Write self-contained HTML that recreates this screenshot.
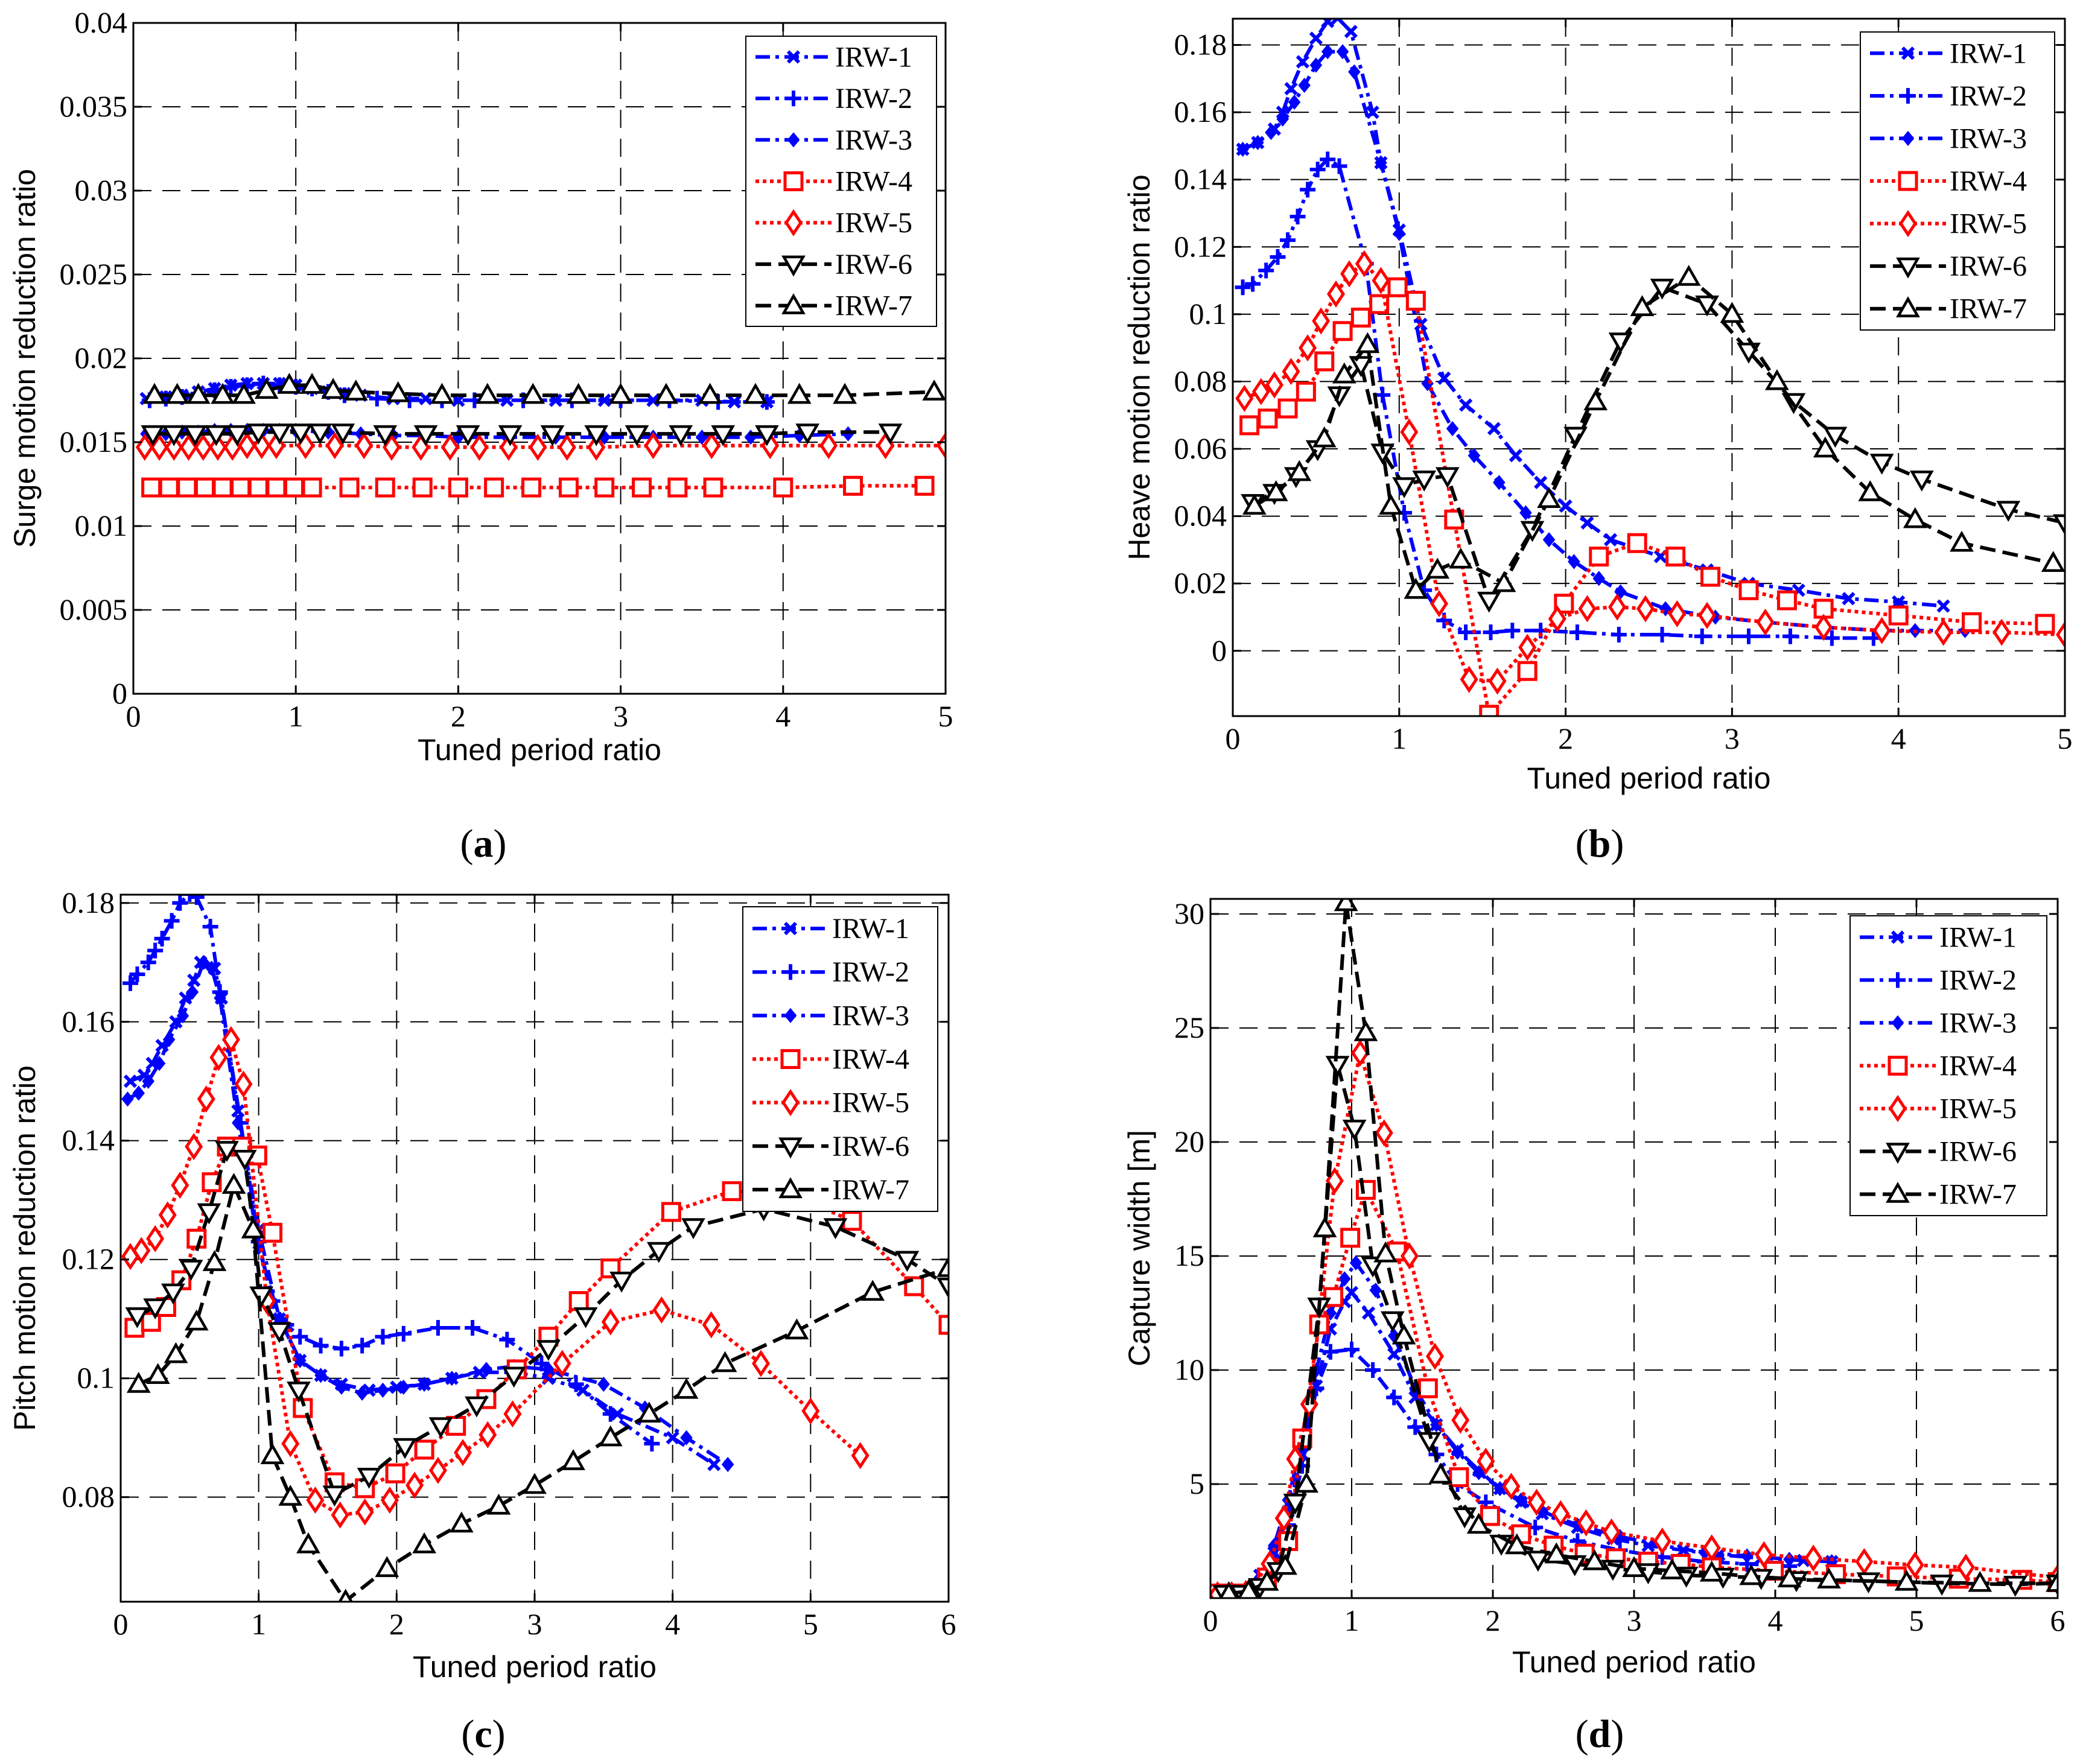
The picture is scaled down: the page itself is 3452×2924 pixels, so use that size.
<!DOCTYPE html>
<html><head><meta charset="utf-8"><style>
html,body{margin:0;padding:0;background:#fff;}
svg{display:block;}
</style></head><body>
<svg id="fig" width="3452" height="2924" viewBox="0 0 3452 2924" xmlns="http://www.w3.org/2000/svg"></svg>
<script>
// ---------------- Panel (a) surge ----------------
const a1X=[0.08,0.2,0.3,0.4,0.5,0.6,0.7,0.8,0.9,1.0,1.1,1.2,1.3,1.4,1.6,1.8,2.0,2.3,2.6,2.9,3.2,3.5,3.7,3.9];
const a1Y=[0.0176,0.0177,0.0178,0.018,0.0182,0.0184,0.0185,0.0185,0.0185,0.0184,0.0182,0.018,0.0179,0.0178,0.0176,0.0176,0.0175,0.0175,0.0175,0.0175,0.0175,0.0175,0.0174,0.0174];
const a2X=[0.1,0.2,0.3,0.4,0.5,0.6,0.7,0.8,0.9,1.0,1.1,1.2,1.3,1.5,1.7,1.9,2.1,2.4,2.7,3.0,3.3,3.6,3.9];
const a2Y=[0.0175,0.0176,0.0177,0.0179,0.0181,0.0183,0.0184,0.0185,0.0184,0.0183,0.0182,0.018,0.0178,0.0176,0.0175,0.0175,0.0175,0.0175,0.0175,0.0175,0.0175,0.0174,0.0174];
const a3X=[0.08,0.2,0.3,0.4,0.5,0.6,0.7,0.8,0.9,1.0,1.2,1.4,1.6,1.8,2.0,2.3,2.6,2.9,3.2,3.5,3.8,4.1,4.4];
const a3Y=[0.0155,0.0155,0.0156,0.0156,0.0157,0.0157,0.0157,0.0157,0.0157,0.0157,0.0156,0.0155,0.0154,0.0154,0.0153,0.0153,0.0153,0.0153,0.0153,0.0153,0.0153,0.0154,0.0155];
const a4X=[0.11,0.22,0.33,0.44,0.55,0.66,0.77,0.88,0.99,1.1,1.33,1.55,1.78,2.0,2.22,2.45,2.68,2.9,3.13,3.35,3.57,4.0,4.43,4.87];
const a4Y=[0.0123,0.0123,0.0123,0.0123,0.0123,0.0123,0.0123,0.0123,0.0123,0.0123,0.0123,0.0123,0.0123,0.0123,0.0123,0.0123,0.0123,0.0123,0.0123,0.0123,0.0123,0.0123,0.0124,0.0124];
const a5X=[0.07,0.16,0.25,0.34,0.43,0.52,0.61,0.7,0.79,0.88,1.06,1.24,1.42,1.59,1.77,1.95,2.13,2.31,2.49,2.67,2.85,3.2,3.56,3.92,4.28,4.63,5.0];
const a5Y=[0.0147,0.0147,0.0147,0.0147,0.0147,0.0147,0.0147,0.0148,0.0148,0.0148,0.0148,0.0148,0.0148,0.0147,0.0147,0.0147,0.0147,0.0147,0.0147,0.0147,0.0147,0.0148,0.0148,0.0148,0.0148,0.0148,0.0148];
const a6X=[0.12,0.25,0.38,0.51,0.64,0.77,0.9,1.03,1.15,1.29,1.55,1.8,2.06,2.32,2.58,2.85,3.1,3.37,3.63,3.9,4.15,4.66];
const a6Y=[0.0155,0.0155,0.0155,0.0155,0.0155,0.0156,0.0156,0.0156,0.0156,0.0156,0.0155,0.0155,0.0155,0.0155,0.0155,0.0155,0.0155,0.0155,0.0155,0.0155,0.0156,0.0156];
const a7X=[0.13,0.27,0.4,0.55,0.68,0.82,0.96,1.1,1.23,1.37,1.63,1.9,2.18,2.46,2.74,3.0,3.28,3.55,3.83,4.1,4.38,4.93];
const a7Y=[0.0178,0.0178,0.0178,0.0178,0.0178,0.0181,0.0184,0.0184,0.0181,0.018,0.0179,0.0178,0.0178,0.0178,0.0178,0.0178,0.0178,0.0178,0.0178,0.0178,0.0178,0.018];
const aYTicks=[0,0.005,0.01,0.015,0.02,0.025,0.03,0.035,0.04];
const aYLabels=["0","0.005","0.01","0.015","0.02","0.025","0.03","0.035","0.04"];
const abXTicks=[0,1,2,3,4,5];

// ---------------- Panel (b) heave ----------------
const b1X=[0.06,0.15,0.25,0.3,0.35,0.42,0.5,0.57,0.63,0.71,0.84,0.89,1.0,1.13,1.27,1.4,1.57,1.7,1.85,2.0,2.13,2.27,2.57,2.85,3.1,3.4,3.7,4.0,4.27];
const b1Y=[0.149,0.151,0.155,0.16,0.167,0.175,0.182,0.187,0.188,0.184,0.16,0.145,0.125,0.097,0.081,0.073,0.066,0.058,0.05,0.043,0.038,0.033,0.028,0.024,0.02,0.018,0.0155,0.0145,0.0133];
const b2X=[0.06,0.12,0.2,0.27,0.33,0.39,0.45,0.51,0.57,0.64,0.8,0.9,1.03,1.15,1.27,1.4,1.55,1.68,1.85,2.07,2.32,2.58,2.82,3.1,3.35,3.6,3.85];
const b2Y=[0.108,0.109,0.113,0.117,0.122,0.129,0.137,0.143,0.146,0.144,0.115,0.076,0.041,0.018,0.009,0.0055,0.0055,0.006,0.006,0.0055,0.0048,0.0048,0.0043,0.0043,0.0043,0.0038,0.0038];
const b3X=[0.06,0.15,0.23,0.3,0.37,0.43,0.5,0.57,0.66,0.73,0.89,1.0,1.17,1.32,1.45,1.6,1.76,1.9,2.05,2.2,2.33,2.6,2.9,3.2,3.55,3.9,4.1,4.4];
const b3Y=[0.149,0.151,0.154,0.158,0.163,0.168,0.174,0.178,0.178,0.172,0.145,0.124,0.0794,0.066,0.058,0.05,0.041,0.033,0.0265,0.0215,0.0175,0.0125,0.01,0.0085,0.007,0.006,0.006,0.006];
const b4X=[0.1,0.21,0.33,0.44,0.55,0.66,0.77,0.88,0.99,1.1,1.33,1.54,1.77,1.99,2.2,2.43,2.66,2.87,3.1,3.33,3.55,4.0,4.44,4.88];
const b4Y=[0.067,0.069,0.072,0.077,0.086,0.095,0.099,0.103,0.108,0.104,0.039,-0.019,-0.006,0.014,0.028,0.032,0.028,0.022,0.018,0.015,0.0125,0.0105,0.0085,0.008];
const b5X=[0.07,0.17,0.25,0.35,0.45,0.53,0.62,0.7,0.79,0.89,1.06,1.24,1.42,1.59,1.77,1.95,2.13,2.31,2.48,2.67,2.85,3.2,3.55,3.9,4.27,4.62,5.0];
const b5Y=[0.075,0.077,0.079,0.083,0.09,0.098,0.106,0.112,0.115,0.11,0.065,0.014,-0.0085,-0.009,0.001,0.0095,0.0125,0.013,0.0125,0.011,0.0105,0.0085,0.007,0.006,0.0055,0.0055,0.0048];
const b6X=[0.12,0.25,0.38,0.51,0.64,0.77,0.9,1.03,1.15,1.29,1.54,1.8,2.06,2.33,2.58,2.85,3.1,3.37,3.62,3.9,4.14,4.66,5.0];
const b6Y=[0.044,0.047,0.052,0.06,0.076,0.085,0.059,0.049,0.051,0.052,0.015,0.036,0.064,0.092,0.108,0.103,0.089,0.074,0.064,0.056,0.051,0.042,0.038];
const b7X=[0.13,0.26,0.4,0.55,0.67,0.81,0.95,1.1,1.23,1.37,1.63,1.9,2.18,2.46,2.74,3.0,3.27,3.56,3.83,4.1,4.38,4.93];
const b7Y=[0.043,0.047,0.053,0.063,0.082,0.091,0.043,0.018,0.024,0.027,0.02,0.045,0.074,0.102,0.111,0.1,0.08,0.06,0.047,0.039,0.032,0.026];
const bYTicks=[0,0.02,0.04,0.06,0.08,0.1,0.12,0.14,0.16,0.18];
const bYLabels=["0","0.02","0.04","0.06","0.08","0.1","0.12","0.14","0.16","0.18"];

// ---------------- Panel (c) pitch ----------------
const c1X=[0.07,0.17,0.23,0.3,0.4,0.47,0.53,0.58,0.68,0.73,0.85,1.0,1.15,1.3,1.45,1.6,1.8,2.0,2.2,2.4,2.6,2.85,3.1,3.35,3.6,4.0,4.3];
const c1Y=[0.15,0.151,0.153,0.156,0.16,0.164,0.167,0.17,0.169,0.164,0.145,0.125,0.11,0.103,0.1005,0.099,0.098,0.0985,0.099,0.1,0.101,0.101,0.1,0.098,0.094,0.09,0.0855];
const c2X=[0.07,0.12,0.2,0.25,0.3,0.37,0.43,0.5,0.55,0.65,0.72,0.87,1.0,1.1,1.2,1.3,1.45,1.6,1.75,1.9,2.05,2.3,2.55,2.8,3.05,3.3,3.55,3.85];
const c2Y=[0.1665,0.168,0.17,0.172,0.174,0.177,0.18,0.1815,0.181,0.176,0.165,0.143,0.123,0.113,0.109,0.107,0.1055,0.105,0.1055,0.107,0.1075,0.1085,0.1085,0.1065,0.1025,0.099,0.094,0.089];
const c3X=[0.05,0.13,0.2,0.28,0.35,0.45,0.52,0.6,0.66,0.72,0.85,1.0,1.15,1.3,1.45,1.6,1.75,1.9,2.05,2.2,2.4,2.65,2.85,3.1,3.5,3.8,4.1,4.4];
const c3Y=[0.147,0.148,0.15,0.153,0.157,0.161,0.165,0.17,0.169,0.164,0.143,0.122,0.11,0.103,0.1005,0.0985,0.0975,0.098,0.0985,0.099,0.1,0.1015,0.102,0.1015,0.099,0.095,0.09,0.0855];
const c4X=[0.1,0.22,0.33,0.44,0.55,0.66,0.77,0.88,0.99,1.1,1.32,1.55,1.77,1.99,2.2,2.43,2.65,2.87,3.1,3.32,3.55,3.99,4.43,4.86,5.3,5.75,6.0];
const c4Y=[0.1085,0.1095,0.112,0.1165,0.1235,0.133,0.139,0.139,0.1375,0.1245,0.095,0.0825,0.0815,0.084,0.088,0.092,0.0965,0.1015,0.107,0.113,0.1185,0.128,0.1315,0.131,0.1265,0.1155,0.109];
const c5X=[0.07,0.15,0.25,0.34,0.43,0.53,0.62,0.71,0.8,0.89,1.06,1.23,1.41,1.59,1.77,1.95,2.13,2.3,2.48,2.66,2.84,3.2,3.55,3.92,4.28,4.64,5.0,5.36];
const c5Y=[0.1205,0.1215,0.1235,0.1275,0.1325,0.139,0.147,0.154,0.157,0.1495,0.113,0.089,0.0795,0.077,0.0775,0.0795,0.082,0.0845,0.0875,0.0905,0.094,0.1025,0.1095,0.1115,0.109,0.1025,0.0945,0.087];
const c6X=[0.12,0.25,0.38,0.51,0.64,0.77,0.9,1.02,1.15,1.29,1.55,1.8,2.06,2.32,2.58,2.85,3.1,3.37,3.63,3.9,4.15,4.66,5.18,5.7,6.0];
const c6Y=[0.1105,0.112,0.1145,0.1185,0.128,0.1385,0.137,0.114,0.108,0.098,0.0805,0.0835,0.0885,0.092,0.0955,0.1005,0.105,0.1105,0.1165,0.1215,0.1255,0.1285,0.1255,0.12,0.1155];
const c7X=[0.13,0.27,0.4,0.55,0.68,0.82,0.96,1.1,1.23,1.36,1.63,1.93,2.2,2.47,2.74,3.0,3.28,3.55,3.83,4.1,4.38,4.9,5.45,6.0];
const c7Y=[0.099,0.1005,0.104,0.1095,0.1195,0.1325,0.125,0.087,0.08,0.072,0.0625,0.068,0.072,0.0755,0.0785,0.082,0.086,0.09,0.094,0.098,0.1025,0.108,0.1145,0.1185];
const cYTicks=[0.08,0.1,0.12,0.14,0.16,0.18];
const cYLabels=["0.08","0.1","0.12","0.14","0.16","0.18"];
const cdXTicks=[0,1,2,3,4,5,6];

// ---------------- Panel (d) capture width ----------------
const d1X=[0.05,0.15,0.25,0.35,0.45,0.55,0.65,0.75,0.85,0.95,1.0,1.12,1.3,1.45,1.6,1.75,1.9,2.05,2.2,2.35,2.6,2.85,3.1,3.35,3.6,3.9,4.2,4.4];
const d1Y=[0.2,0.2,0.3,1.0,2.0,3.8,6.3,9.3,11.8,13.0,13.4,12.5,10.7,8.8,7.6,6.5,5.6,4.8,4.2,3.7,3.1,2.6,2.3,2.1,1.9,1.75,1.65,1.6];
const d2X=[0.05,0.2,0.3,0.45,0.55,0.65,0.75,0.85,1.0,1.15,1.3,1.45,1.6,1.75,1.95,2.3,2.6,2.9,3.2,3.5,3.8,4.1];
const d2Y=[0.2,0.2,0.5,1.8,3.2,5.8,9.2,10.8,10.9,10.0,8.8,7.5,6.3,5.0,4.2,3.1,2.5,2.1,1.8,1.6,1.5,1.4];
const d3X=[0.05,0.2,0.35,0.45,0.55,0.65,0.75,0.85,0.95,1.03,1.17,1.3,1.45,1.6,1.75,1.9,2.05,2.2,2.35,2.6,2.9,3.2,3.5,3.8,4.1,4.4];
const d3Y=[0.2,0.3,0.9,2.3,4.3,7.0,10.0,12.5,14.0,14.7,13.5,11.5,9.2,7.6,6.4,5.5,4.8,4.3,3.8,3.2,2.7,2.3,2.0,1.85,1.7,1.6];
const d4X=[0.05,0.2,0.4,0.55,0.65,0.77,0.87,0.99,1.1,1.32,1.54,1.76,1.98,2.2,2.43,2.65,2.87,3.1,3.33,3.55,3.99,4.43,4.86,5.3,5.75,6.0];
const d4Y=[0.2,0.2,0.9,2.5,7.0,12.0,13.2,15.8,17.9,15.2,9.2,5.3,3.6,2.8,2.3,1.95,1.75,1.6,1.5,1.35,1.2,1.05,0.95,0.85,0.8,0.7];
const d5X=[0.05,0.15,0.25,0.42,0.52,0.6,0.7,0.88,1.06,1.23,1.41,1.59,1.77,1.95,2.13,2.31,2.48,2.66,2.84,3.2,3.55,3.92,4.27,4.63,4.99,5.35,6.0];
const d5Y=[0.15,0.15,0.2,1.5,3.5,6.1,8.5,18.3,23.9,20.4,15.0,10.6,7.8,6.0,4.9,4.2,3.7,3.3,2.9,2.5,2.2,1.9,1.75,1.6,1.45,1.35,0.9];
const d6X=[0.1,0.22,0.35,0.48,0.6,0.77,0.9,1.02,1.15,1.29,1.55,1.8,2.06,2.32,2.58,2.85,3.1,3.37,3.63,3.9,4.15,4.66,5.18,5.7,6.0];
const d6Y=[0.2,0.2,0.5,1.2,4.2,12.8,23.4,20.6,14.6,12.2,6.9,3.6,2.4,1.7,1.5,1.3,1.15,1.0,0.95,0.9,0.8,0.75,0.65,0.6,0.65];
const d7X=[0.13,0.27,0.4,0.53,0.68,0.81,0.96,1.1,1.24,1.37,1.63,1.9,2.17,2.45,2.72,3.0,3.27,3.55,3.83,4.1,4.38,4.93,5.45,6.0];
const d7Y=[0.2,0.3,0.7,1.4,5.0,16.2,30.5,24.8,15.1,11.5,5.4,3.2,2.3,1.9,1.6,1.3,1.2,1.1,0.95,0.85,0.8,0.7,0.65,0.65];
const dYTicks=[5,10,15,20,25,30];
const dYLabels=["5","10","15","20","25","30"];

const legendNames=["IRW-1","IRW-2","IRW-3","IRW-4","IRW-5","IRW-6","IRW-7"];

const NS="http://www.w3.org/2000/svg";
const svg=document.getElementById('fig');
function mk(tag,attrs,parent){const e=document.createElementNS(NS,tag);for(const k in attrs)e.setAttribute(k,attrs[k]);(parent||svg).appendChild(e);return e;}

const STY=[
 {c:'#0000ff',d:'24 9 6 9',m:'x'},
 {c:'#0000ff',d:'24 9 6 9',m:'+'},
 {c:'#0000ff',d:'24 9 6 9',m:'dot'},
 {c:'#ff0000',d:'6 6',m:'sq'},
 {c:'#ff0000',d:'6 6',m:'dia'},
 {c:'#000000',d:'26 12',m:'dn'},
 {c:'#000000',d:'26 12',m:'up'}
];

function marker(g,type,x,y,col){
  let e;
  if(type==='x'){
    e=mk('path',{d:`M${x-9},${y-9}L${x+9},${y+9}M${x-9},${y+9}L${x+9},${y-9}`,stroke:col,'stroke-width':6,fill:'none'},g);
  }else if(type==='+'){
    e=mk('path',{d:`M${x-13},${y}L${x+13},${y}M${x},${y-13}L${x},${y+13}`,stroke:col,'stroke-width':6,fill:'none'},g);
  }else if(type==='dot'){
    e=mk('path',{d:`M${x},${y-11}L${x+9},${y}L${x},${y+11}L${x-9},${y}Z`,fill:col,stroke:col,'stroke-width':2},g);
  }else if(type==='sq'){
    e=mk('rect',{x:x-14,y:y-14,width:28,height:28,fill:'#fff',stroke:col,'stroke-width':5},g);
  }else if(type==='dia'){
    e=mk('path',{d:`M${x},${y-18}L${x+12},${y}L${x},${y+18}L${x-12},${y}Z`,fill:'#fff',stroke:col,'stroke-width':5},g);
  }else if(type==='dn'){
    e=mk('path',{d:`M${x-16},${y-12}L${x+16},${y-12}L${x},${y+16}Z`,fill:'#fff',stroke:col,'stroke-width':4.5},g);
  }else{
    e=mk('path',{d:`M${x-16},${y+12}L${x+16},${y+12}L${x},${y-16}Z`,fill:'#fff',stroke:col,'stroke-width':4.5},g);
  }
  
  
}

function panel(cfg){
  const g=mk('g',{});
  
  
  const sx=v=>cfg.L+(v-cfg.xmin)/(cfg.xmax-cfg.xmin)*(cfg.R-cfg.L);
  const sy=v=>cfg.B-(v-cfg.ymin)/(cfg.ymax-cfg.ymin)*(cfg.B-cfg.T);
  mk('rect',{x:cfg.L,y:cfg.T,width:cfg.R-cfg.L,height:cfg.B-cfg.T,fill:'#fff'},g);
  const grid=mk('g',{stroke:'#000','stroke-width':2,'stroke-dasharray':'30 18'},g);
  
  
  cfg.xt.forEach(v=>{const X=sx(v);if(X>cfg.L+3&&X<cfg.R-3)mk('line',{x1:X,x2:X,y1:cfg.T,y2:cfg.B},grid);});
  cfg.yt.forEach(v=>{const Y=sy(v);if(Y>cfg.T+3&&Y<cfg.B-3)mk('line',{y1:Y,y2:Y,x1:cfg.L,x2:cfg.R},grid);});
  const clipId='clip'+cfg.name;
  const cp=mk('clipPath',{id:clipId},g);
  mk('rect',{x:cfg.L,y:cfg.T,width:cfg.R-cfg.L,height:cfg.B-cfg.T},cp);
  cfg.series.forEach((s,i)=>{
    const st=STY[i];
    const sg=mk('g',{'clip-path':`url(#${clipId})`},g);
    
    
    const pts=s[0].map((x,k)=>sx(x).toFixed(1)+','+sy(s[1][k]).toFixed(1)).join(' ');
    const pl=mk('polyline',{points:pts,fill:'none',stroke:st.c,'stroke-width':6,'stroke-dasharray':st.d,'stroke-linejoin':'round'},sg);
    
    
    s[0].forEach((x,k)=>marker(sg,st.m,sx(x),sy(s[1][k]),st.c));
  });
  mk('rect',{x:cfg.L,y:cfg.T,width:cfg.R-cfg.L,height:cfg.B-cfg.T,fill:'none',stroke:'#000','stroke-width':3},g);
  cfg.xt.forEach(v=>{const X=sx(v);
    mk('line',{x1:X,x2:X,y1:cfg.B,y2:cfg.B-14,stroke:'#000','stroke-width':3},g);
    mk('line',{x1:X,x2:X,y1:cfg.T,y2:cfg.T+14,stroke:'#000','stroke-width':3},g);
    const t=mk('text',{x:X,y:cfg.B+54,'text-anchor':'middle','font-family':'Liberation Serif, serif','font-size':50},g);
    t.textContent=String(v);
    
    
  });
  cfg.yt.forEach((v,k)=>{const Y=sy(v);
    mk('line',{x1:cfg.L,x2:cfg.L+14,y1:Y,y2:Y,stroke:'#000','stroke-width':3},g);
    mk('line',{x1:cfg.R,x2:cfg.R-14,y1:Y,y2:Y,stroke:'#000','stroke-width':3},g);
    const t=mk('text',{x:cfg.L-10,y:Y+16,'text-anchor':'end','font-family':'Liberation Serif, serif','font-size':50},g);
    t.textContent=cfg.yl[k];
    
    
  });
  const xt=mk('text',{x:(cfg.L+cfg.R)/2,y:cfg.xlabY,'text-anchor':'middle','font-family':'Liberation Sans, sans-serif','font-size':50},g);
  xt.textContent='Tuned period ratio';
  
  
  const yt=mk('text',{x:0,y:0,'text-anchor':'middle','font-family':'Liberation Sans, sans-serif','font-size':50,transform:`translate(${cfg.ylabX},${cfg.ylabY}) rotate(-90)`},g);
  yt.textContent=cfg.ytitle;
  
  
  const pl=mk('text',{x:cfg.plX,y:cfg.plY,'text-anchor':'middle','font-family':'Liberation Serif, serif','font-size':66},g);
  pl.innerHTML='(<tspan font-weight="bold">'+cfg.letter+'</tspan>)';
  
  
  const lg=mk('g',{},g);
  
  
  const Lg=cfg.leg;
  mk('rect',{x:Lg[0],y:Lg[1],width:Lg[2],height:Lg[3],fill:'#fff',stroke:'#000','stroke-width':2},lg);
  const pitch=Lg[3]/7;
  legendNames.forEach((n,i)=>{
    const st=STY[i];const cy=Lg[1]+pitch*(i+0.5);
    const ent=mk('g',{},lg);
    
    
    mk('line',{x1:Lg[0]+16,x2:Lg[0]+142,y1:cy,y2:cy,stroke:st.c,'stroke-width':6,'stroke-dasharray':st.d},ent);
    marker(ent,st.m,Lg[0]+79,cy,st.c);
    const t=mk('text',{x:Lg[0]+148,y:cy+16,'font-family':'Liberation Serif, serif','font-size':48},ent);
    t.textContent=n;
  });
}

panel({name:'panel-a-surge',letter:'a',L:221,R:1567,T:38,B:1150,xmin:0,xmax:5,ymin:0,ymax:0.04,xt:abXTicks,yt:aYTicks,yl:aYLabels,
  series:[[a1X,a1Y],[a2X,a2Y],[a3X,a3Y],[a4X,a4Y],[a5X,a5Y],[a6X,a6Y],[a7X,a7Y]],
  xlabY:1260,ylabX:58,ylabY:594,ytitle:'Surge motion reduction ratio',plX:801,plY:1420,leg:[1236,60,316,481]});
panel({name:'panel-b-heave',letter:'b',L:2043,R:3422,T:31,B:1187,xmin:0,xmax:5,ymin:-0.0194,ymax:0.1878,xt:abXTicks,yt:bYTicks,yl:bYLabels,
  series:[[b1X,b1Y],[b2X,b2Y],[b3X,b3Y],[b4X,b4Y],[b5X,b5Y],[b6X,b6Y],[b7X,b7Y]],
  xlabY:1307,ylabX:1905,ylabY:609,ytitle:'Heave motion reduction ratio',plX:2651,plY:1420,leg:[3083,53,322,494]});
panel({name:'panel-c-pitch',letter:'c',L:200,R:1572,T:1483,B:2655,xmin:0,xmax:6,ymin:0.0624,ymax:0.1814,xt:cdXTicks,yt:cYTicks,yl:cYLabels,
  series:[[c1X,c1Y],[c2X,c2Y],[c3X,c3Y],[c4X,c4Y],[c5X,c5Y],[c6X,c6Y],[c7X,c7Y]],
  xlabY:2780,ylabX:58,ylabY:2069,ytitle:'Pitch motion reduction ratio',plX:801,plY:2896,leg:[1231,1503,323,505]});
panel({name:'panel-d-capture',letter:'d',L:2006,R:3410,T:1490,B:2649,xmin:0,xmax:6,ymin:0,ymax:30.66,xt:cdXTicks,yt:dYTicks,yl:dYLabels,
  series:[[d1X,d1Y],[d2X,d2Y],[d3X,d3Y],[d4X,d4Y],[d5X,d5Y],[d6X,d6Y],[d7X,d7Y]],
  xlabY:2772,ylabX:1905,ylabY:2069,ytitle:'Capture width [m]',plX:2651,plY:2896,leg:[3066,1518,326,497]});
</script>
</body></html>
